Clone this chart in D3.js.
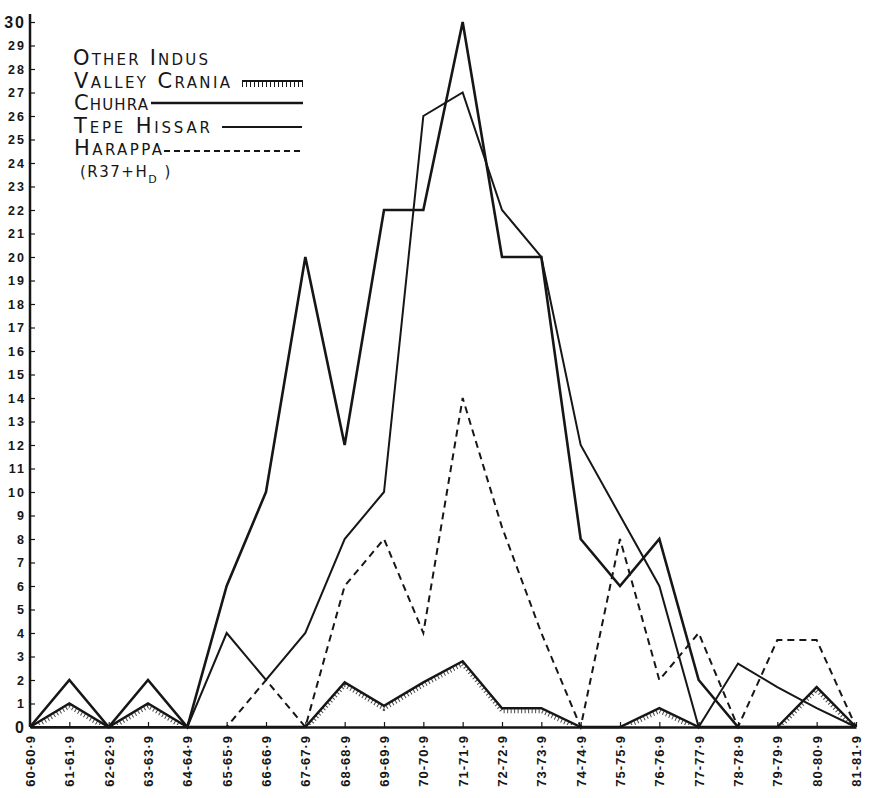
<!DOCTYPE html>
<html>
<head>
<meta charset="utf-8">
<script src="https://cdn.jsdelivr.net/npm/d3@7"></script>
<style>
  body { margin: 0; background: #fff; }
  svg { display: block; font-family: "DejaVu Sans", sans-serif; }
</style>
</head>
<body>
<svg id="chart" width="874" height="798"></svg>
<script>
// class intervals along the bottom
const categories = ["60-60·9", "61-61·9", "62-62·9", "63-63·9", "64-64·9", "65-65·9", "66-66·9",
  "67-67·9", "68-68·9", "69-69·9", "70-70·9", "71-71·9", "72-72·9", "73-73·9", "74-74·9",
  "75-75·9", "76-76·9", "77-77·9", "78-78·9", "79-79·9", "80-80·9", "81-81·9"];

// series
const otherIndus = [0, 1, 0, 1, 0, 0, 0, 0, 1.9, 0.9, 1.9, 2.8, 0.8, 0.8, 0, 0, 0.8, 0, 0, 0, 1.7, 0];
const chuhra     = [0, 2, 0, 2, 0, 6, 10, 20, 12, 22, 22, 30, 20, 20, 8, 6, 8, 2, 0, 0, 0, 0];
const tepeHissar = [0, 0, 0, 0, 0, 4, 2, 4, 8, 10, 26, 27, 22, 20, 12, 9, 6, 0, 2.7, 1.7, 0.8, 0];
const harappa    = [0, 0, 0, 0, 0, 0, 2, 0, 6, 8, 4, 14, 8.5, 4, 0, 8, 2, 4, 0, 3.7, 3.7, 0];

const yTicks = [0, 1, 2, 3, 4, 5, 6, 7, 8, 9, 10, 11, 12, 13, 14, 15, 16, 17, 18, 19, 20,
  21, 22, 23, 24, 25, 26, 27, 28, 29, 30];

const ink = "#161616";
const svg = d3.select("#chart");

const x = d3.scalePoint().domain(categories).range([30, 856]);
const y = d3.scaleLinear().domain([0, 30]).range([727, 22]);

// x axis, ticks pointing up, labels turned on their side
const xAxis = d3.axisBottom(x).tickSizeInner(-5).tickSizeOuter(0).tickPadding(8);
const gx = svg.append("g").attr("transform", "translate(0,727)").call(xAxis);
gx.select(".domain").attr("stroke", ink).attr("stroke-width", 2.5);
gx.selectAll(".tick line").attr("stroke", ink).attr("stroke-width", 1.2);
gx.selectAll(".tick text")
  .attr("transform", "rotate(-90)")
  .attr("x", -8).attr("y", 0).attr("dy", "0.35em")
  .style("text-anchor", "end")
  .attr("fill", ink)
  .style("font-size", "13px").style("font-weight", "bold").style("letter-spacing", "1px");

// y axis, ticks pointing right
const yAxis = d3.axisLeft(y).tickValues(yTicks).tickSizeInner(-5).tickSizeOuter(0).tickPadding(4);
const gy = svg.append("g").attr("transform", "translate(30,0)").call(yAxis);
gy.select(".domain").attr("stroke", ink).attr("stroke-width", 2.5)
  .attr("d", "M0,727V14");
gy.selectAll(".tick line").attr("stroke", ink).attr("stroke-width", 1.2);
gy.selectAll(".tick text")
  .attr("fill", ink)
  .style("font-weight", "bold")
  .style("letter-spacing", "2px")
  .style("font-size", d => (d === 0 || d === 30) ? "16px" : "12.5px");

const line = d3.line()
  .x((d, i) => x(categories[i]))
  .y(d => y(d));

// the comb path is shifted 3px down, so its clip box is 3px shorter
svg.append("clipPath").attr("id", "above-axis")
  .append("rect").attr("x", 0).attr("y", 0).attr("width", 874).attr("height", 722);

const plot = svg.append("g").attr("fill", "none").attr("stroke", ink).attr("stroke-linejoin", "miter");

// other indus valley crania: line with a comb hanging beneath
plot.append("path").datum(otherIndus).attr("d", line)
  .attr("clip-path", "url(#above-axis)")
  .attr("transform", "translate(0,3)")
  .attr("stroke-width", 4).attr("stroke-dasharray", "1,2.5").attr("opacity", 0.8);
plot.append("path").datum(otherIndus).attr("d", line).attr("stroke-width", 2.4);

// harappa, dashed
plot.append("path").datum(harappa).attr("d", line)
  .attr("stroke-width", 2).attr("stroke-dasharray", "7,5");

// tepe hissar, thinner solid
plot.append("path").datum(tepeHissar).attr("d", line).attr("stroke-width", 2);

// chuhra, heavier solid
plot.append("path").datum(chuhra).attr("d", line).attr("stroke-width", 2.6);

// legend
const leg = svg.append("g").attr("fill", ink)
  .style("font-variant", "small-caps").style("font-size", "21px");

leg.append("text").attr("x", 73).attr("y", 65).attr("textLength", 135).attr("lengthAdjust", "spacing").text("Other Indus");
leg.append("text").attr("x", 74).attr("y", 88).attr("textLength", 156).attr("lengthAdjust", "spacing").text("Valley Crania");
leg.append("text").attr("x", 74).attr("y", 110).attr("textLength", 74).attr("lengthAdjust", "spacing").text("Chuhra");
leg.append("text").attr("x", 74).attr("y", 133).attr("textLength", 136).attr("lengthAdjust", "spacing").text("Tepe Hissar");
leg.append("text").attr("x", 74).attr("y", 155).attr("textLength", 88).attr("lengthAdjust", "spacing").text("Harappa");

const note = leg.append("text").attr("x", 80).attr("y", 177).style("font-size", "15px").style("font-variant", "normal")
  .style("letter-spacing", "1.5px");
note.append("tspan").text("(R37+H");
note.append("tspan").attr("dy", 6).style("font-size", "11px").text("D");
note.append("tspan").attr("dy", -6).text(" )");

const legLines = svg.append("g").attr("stroke", ink).attr("fill", "none");
legLines.append("line").attr("x1", 242).attr("x2", 303).attr("y1", 81).attr("y2", 81).attr("stroke-width", 2);
legLines.append("line").attr("x1", 242).attr("x2", 303).attr("y1", 84.5).attr("y2", 84.5)
  .attr("stroke-width", 5).attr("stroke-dasharray", "1,3");
legLines.append("line").attr("x1", 151).attr("x2", 303).attr("y1", 103).attr("y2", 103).attr("stroke-width", 2.6);
legLines.append("line").attr("x1", 222).attr("x2", 302).attr("y1", 127).attr("y2", 127).attr("stroke-width", 2);
legLines.append("line").attr("x1", 164).attr("x2", 302).attr("y1", 151).attr("y2", 151)
  .attr("stroke-width", 2).attr("stroke-dasharray", "6,4");
</script>
</body>
</html>
